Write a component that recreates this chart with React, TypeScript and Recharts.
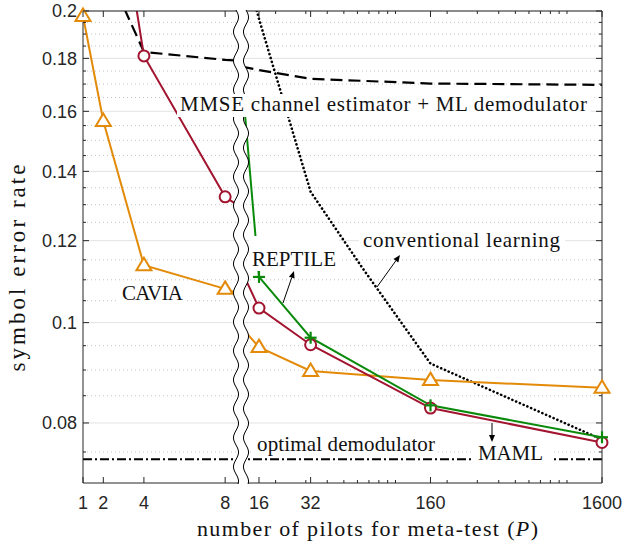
import React from "react";
import { ComposedChart, Line, Scatter, XAxis, YAxis, ReferenceLine, CartesianGrid } from "recharts";

// number of pilots P used at meta-test
const pilots = [1, 2, 4, 8, 16, 32, 160, 1600];
const caviaSER = [0.1978, 0.1566, 0.1136, 0.1078, 0.0947, 0.0898, 0.088, 0.0865];
const mamlSER = [0.4, 0.32, 0.181, 0.1323, 0.1033, 0.0952, 0.0827, 0.0766];
const reptileSER = [null, null, null, 0.42, 0.1107, 0.0967, 0.0832, 0.0775];
const mmseSER = [0.24, 0.223, 0.1826, 0.1794, 0.1754, 0.172, 0.1702, 0.1697];
const convPilots = [8, 16, 32, 64, 160, 1600];
const convSER = [0.3, 0.1965, 0.1338, 0.113, 0.0913, 0.0771];
const optimalSER = 0.0738;

const yMajor = [0.08, 0.1, 0.12, 0.14, 0.16, 0.18, 0.2];
const yMinor = [
  0.075, 0.085, 0.09, 0.095, 0.105, 0.11, 0.115, 0.125, 0.13, 0.135, 0.145, 0.15,
  0.155, 0.165, 0.17, 0.175, 0.185, 0.19, 0.195,
];
const leftTicks = [1, 2, 4, 8];
const rightMajor = [16, 32, 160, 1600];
const rightMinor = [20, 30, 40, 50, 60, 70, 80, 90, 100, 200, 300, 400, 500, 600, 700, 800, 900, 1000];

const Y_DOMAIN: [number, number] = [0.07, 0.2];
const LEFT_DOMAIN: [number, number] = [1, 8.83];
const RIGHT_DOMAIN: [number, number] = [12.07, 1600];

const AXIS = "#262626";
const ORANGE = "#E38A08";
const RED = "#A2142F";
const GREEN = "#0A8A0A";
const SANS = "'Liberation Sans', Arial, sans-serif";
const SERIF = "'Liberation Serif', 'Times New Roman', serif";

type Pt = { p: number; v: number };
const toPoints = (xs: number[], ys: (number | null)[]): Pt[] =>
  xs.map((p, i) => ({ p, v: ys[i] as number })).filter((d) => d.v != null);

const series = [
  { key: "mmse", data: toPoints(pilots, mmseSER), color: "#000", width: 2.2, dash: "12 6", cap: "butt", marker: null },
  { key: "conv", data: toPoints(convPilots, convSER), color: "#000", width: 2.6, dash: "0.1 4", cap: "round", marker: null },
  { key: "cavia", data: toPoints(pilots, caviaSER), color: ORANGE, width: 2, dash: undefined, cap: "butt", marker: "tri" },
  { key: "maml", data: toPoints(pilots, mamlSER), color: RED, width: 2, dash: undefined, cap: "butt", marker: "circle" },
  { key: "reptile", data: toPoints(pilots, reptileSER), color: GREEN, width: 2, dash: undefined, cap: "butt", marker: "plus" },
];

function Marker({ cx, cy, kind, color }: any) {
  if (kind === "tri")
    return (
      <path
        d={`M${cx},${cy - 7.5}L${cx + 7.5},${cy + 5}L${cx - 7.5},${cy + 5}Z`}
        fill="#fff"
        stroke={color}
        strokeWidth={2}
      />
    );
  if (kind === "circle") return <circle cx={cx} cy={cy} r={5.5} fill="#fff" stroke={color} strokeWidth={2} />;
  return (
    <g stroke={color} strokeWidth={2.2}>
      <line x1={cx - 6} x2={cx + 6} y1={cy} y2={cy} />
      <line x1={cx} x2={cx} y1={cy - 6} y2={cy + 6} />
    </g>
  );
}

function XTick({ x, y, payload, majors, pos }: any) {
  const major = majors.includes(payload.value);
  const len = major ? 6 : 3;
  const dir = pos === "bottom" ? -1 : 1;
  return (
    <g>
      <line x1={x} x2={x} y1={y} y2={y + dir * len} stroke={AXIS} strokeWidth={1} />
      {pos === "bottom" && major && (
        <text x={x} y={y + 26} textAnchor="middle" fontSize={18} fontFamily={SANS} fill={AXIS}>
          {payload.value}
        </text>
      )}
    </g>
  );
}

function YTick({ x, y, payload, pos }: any) {
  const major = yMajor.includes(payload.value);
  const len = major ? 6 : 3;
  const dir = pos === "left" ? 1 : -1;
  return (
    <g>
      <line x1={x} x2={x + dir * len} y1={y} y2={y} stroke={AXIS} strokeWidth={1} />
      {pos === "left" && major && (
        <text x={x - 6} y={y} dy="0.36em" textAnchor="end" fontSize={18} fontFamily={SANS} fill={AXIS}>
          {payload.value}
        </text>
      )}
    </g>
  );
}

function Panel({ side }: { side: "left" | "right" }) {
  const isLeft = side === "left";
  const xDomain = isLeft ? LEFT_DOMAIN : RIGHT_DOMAIN;
  const xScale = isLeft ? "linear" : "log";
  const xMajor = isLeft ? leftTicks : rightMajor;
  const xTicks = isLeft ? leftTicks : [...rightMajor, ...rightMinor].sort((a, b) => a - b);
  const inView = (d: Pt) =>
    d.p >= xDomain[0] && d.p <= xDomain[1] && d.v >= Y_DOMAIN[0] && d.v <= Y_DOMAIN[1];
  const yOrient = isLeft ? "left" : "right";

  return (
    <ComposedChart
      width={isLeft ? 246 : 391}
      height={546}
      margin={isLeft ? { top: 10, right: 4, bottom: 33, left: 0 } : { top: 10, right: 0, bottom: 33, left: 6 }}
    >
      <CartesianGrid vertical={false} horizontalValues={yMajor} stroke="#e3e3e3" />
      <CartesianGrid vertical={false} horizontalValues={yMinor} stroke="#c4c4c4" strokeDasharray="1 3" />
      <XAxis
        xAxisId={0}
        dataKey="p"
        type="number"
        scale={xScale}
        domain={xDomain}
        allowDataOverflow
        ticks={xTicks}
        interval={0}
        height={30}
        tickLine={false}
        tickSize={0}
        tickMargin={0}
        axisLine={{ stroke: AXIS }}
        tick={(pr: any) => <XTick {...pr} majors={xMajor} pos="bottom" />}
      />
      <XAxis
        xAxisId="t"
        orientation="top"
        dataKey="p"
        type="number"
        scale={xScale}
        domain={xDomain}
        allowDataOverflow
        ticks={xTicks}
        interval={0}
        height={1}
        tickLine={false}
        tickSize={0}
        tickMargin={0}
        axisLine={{ stroke: AXIS }}
        tick={(pr: any) => <XTick {...pr} majors={xMajor} pos="top" />}
      />
      <YAxis
        yAxisId={0}
        orientation={yOrient}
        type="number"
        scale="log"
        domain={Y_DOMAIN}
        allowDataOverflow
        ticks={[...yMajor, ...yMinor].sort((a, b) => a - b)}
        interval={0}
        width={isLeft ? 83 : 21}
        tickLine={false}
        tickSize={0}
        tickMargin={0}
        axisLine={{ stroke: AXIS }}
        tick={(pr: any) => <YTick {...pr} pos={yOrient} />}
      />
      <XAxis xAxisId="m" dataKey="p" type="number" scale={xScale} domain={xDomain} hide />
      <YAxis yAxisId="m" dataKey="v" orientation={yOrient} type="number" scale="log" domain={Y_DOMAIN} hide />

      <ReferenceLine y={optimalSER} stroke="#000" strokeWidth={2} strokeDasharray="9 3 2 3" />

      {series.map((s) => (
        <Line
          key={s.key}
          data={s.data}
          dataKey="v"
          type="linear"
          stroke={s.color}
          strokeWidth={s.width}
          strokeDasharray={s.dash}
          strokeLinecap={s.cap as any}
          dot={false}
          activeDot={false}
          isAnimationActive={false}
        />
      ))}
      {series
        .filter((s) => s.marker)
        .map((s) => (
          <Scatter
            key={s.key + "-m"}
            xAxisId="m"
            yAxisId="m"
            data={s.data.filter(inView)}
            dataKey="v"
            isAnimationActive={false}
            shape={(pr: any) => <Marker cx={pr.cx} cy={pr.cy} kind={s.marker} color={s.color} />}
          />
        ))}
    </ComposedChart>
  );
}

function wave(cx: number, y0: number, y1: number, reverse = false) {
  const pts: string[] = [];
  for (let y = y0; y <= y1; y += 1) {
    const x = cx + 2.5 * Math.sin((2 * Math.PI * (y - y0)) / 29);
    pts.push(`${x.toFixed(2)},${y}`);
  }
  if (reverse) pts.reverse();
  return pts;
}

function Arrow({ x1, y1, x2, y2 }: any) {
  const a = Math.atan2(y2 - y1, x2 - x1);
  const L = 7;
  const W = 3;
  const bx = x2 - L * Math.cos(a);
  const by = y2 - L * Math.sin(a);
  const px = -Math.sin(a) * W;
  const py = Math.cos(a) * W;
  return (
    <g>
      <line x1={x1} y1={y1} x2={bx} y2={by} stroke="#000" strokeWidth={1} />
      <path d={`M${x2},${y2}L${bx + px},${by + py}L${bx - px},${by - py}Z`} fill="#000" />
    </g>
  );
}

function Note({ x, y, text, len, box }: any) {
  return (
    <g>
      <rect x={box[0]} y={box[1]} width={box[2]} height={box[3]} fill="#fff" />
      <text x={x} y={y} fontSize={21} fontFamily={SERIF} fill="#111" textLength={len} lengthAdjust="spacing">
        {text}
      </text>
    </g>
  );
}

export default function App() {
  const leftWave = wave(236, 10, 484);
  const rightWave = wave(246, 10, 484);
  const band = "M" + leftWave.join("L") + "L" + wave(246, 10, 484, true).join("L") + "Z";

  return (
    <div style={{ position: "absolute", left: 0, top: 0, width: 623, height: 546, background: "#fff" }}>
      <div style={{ position: "absolute", left: 0, top: 0 }}>
        <Panel side="left" />
      </div>
      <div style={{ position: "absolute", left: 232, top: 0 }}>
        <Panel side="right" />
      </div>
      <svg width={623} height={546} style={{ position: "absolute", left: 0, top: 0, pointerEvents: "none" }}>
        <path d={band} fill="#fff" />
        <path d={"M" + leftWave.join("L")} fill="none" stroke="#000" strokeWidth={1} />
        <path d={"M" + rightWave.join("L")} fill="none" stroke="#000" strokeWidth={1} />

        <Note x={180} y={111} len={407} box={[177, 94, 414, 23]} text="MMSE channel estimator + ML demodulator" />
        <Note x={363} y={247} len={197} box={[359, 228, 206, 27]} text="conventional learning" />
        <Note x={252} y={266} len={84} box={[249, 236, 90, 35]} text="REPTILE" />
        <Note x={122} y={300} len={61} box={[119, 283, 67, 23]} text="CAVIA" />
        <Note x={257} y={451} len={178} box={[254, 434, 184, 22]} text="optimal demodulator" />
        <Note x={478} y={460} len={65} box={[471, 441, 80, 25]} text="MAML" />

        <Arrow x1={377} y1={287} x2={400} y2={255} />
        <Arrow x1={283} y1={303} x2={294} y2={271} />
        <Arrow x1={492} y1={423} x2={492} y2={442} />

        <text x={197} y={536} fontSize={22} fontFamily={SERIF} fill="#111" textLength={341} lengthAdjust="spacing">
          number of pilots for meta-test (<tspan fontStyle="italic">P</tspan>)
        </text>
        <text
          x={25}
          y={268}
          transform="rotate(-90 25 268)"
          textAnchor="middle"
          fontSize={23}
          fontFamily={SERIF}
          fill="#111"
          textLength={207}
          lengthAdjust="spacing"
        >
          symbol error rate
        </text>
      </svg>
    </div>
  );
}
